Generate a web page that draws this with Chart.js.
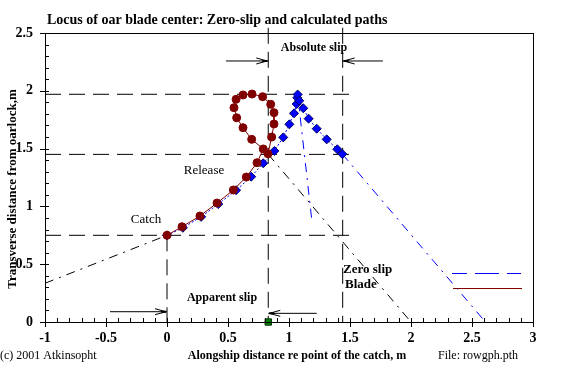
<!DOCTYPE html>
<html>
<head>
<meta charset="utf-8">
<script src="https://cdn.jsdelivr.net/npm/chart.js@4/dist/chart.umd.min.js"></script>
<style>
html, body { margin: 0; padding: 0; background: #fff; }
</style>
</head>
<body>
<canvas id="locus-chart" width="570" height="369"></canvas>
<script>
// Blade path (calculated), catch -> loop -> release
const bladeX = [0.00, 0.123, 0.270, 0.410, 0.544, 0.650, 0.738, 0.789, 0.694, 0.623, 0.571, 0.549, 0.566, 0.623, 0.697, 0.784, 0.850, 0.877, 0.877, 0.858, 0.828];
const bladeY = [0.75, 0.824, 0.917, 1.029, 1.142, 1.254, 1.378, 1.497, 1.580, 1.681, 1.767, 1.854, 1.926, 1.964, 1.972, 1.949, 1.883, 1.811, 1.713, 1.600, 1.455];

// Zero-slip path
const zeroSlipX = [0.00, 0.13, 0.28, 0.42, 0.566, 0.690, 0.789, 0.880, 0.953, 1.003, 1.041, 1.063, 1.068, 1.071, 1.084, 1.117, 1.161, 1.227, 1.309, 1.396, 1.437];
const zeroSlipY = [0.75, 0.815, 0.91, 1.02, 1.140, 1.257, 1.373, 1.480, 1.597, 1.710, 1.805, 1.886, 1.940, 1.968, 1.914, 1.849, 1.759, 1.672, 1.580, 1.494, 1.453];

// Extensions of the paths
const zeroDropX = [1.071, 1.185];
const zeroDropY = [1.968, 0.90];
const zeroTailX = [1.437, 2.61];
const zeroTailY = [1.453, 0.0];
const catchLeadX = [-1.0, 0.0];
const catchLeadY = [0.335, 0.75];
const releaseTailX = [0.83, 2.0];
const releaseTailY = [1.45, 0.0];

// Reference levels
const levelY = [1.97, 1.45, 0.75];
const levelXEnd = 1.52;
const catchX = 0.0;
const releaseX = 0.83;
const slipX = 1.44;

// Slip arrows [fromX, toX, y]
const arrows = [
    [0.484, 0.83, 2.258],
    [1.77, 1.44, 2.258],
    [-0.467, 0.0, 0.089],
    [1.227, 0.83, 0.075]
];

const xTickValues = [-1, -0.5, 0, 0.5, 1, 1.5, 2, 2.5, 3];
const yTickValues = [0, 0.5, 1, 1.5, 2, 2.5];

const SERIF = '"Liberation Serif", "Times New Roman", serif';

function pts(xs, ys) {
    return xs.map((v, i) => ({x: v, y: ys[i]}));
}

function plainLine(data, color, dash, extra) {
    return Object.assign({
        data: data,
        showLine: true,
        borderColor: color,
        borderWidth: 1,
        borderDash: dash,
        pointRadius: 0,
        pointHoverRadius: 0,
        fill: false
    }, extra || {});
}

const datasets = [];

datasets.push({
    label: 'Blade',
    data: pts(bladeX, bladeY),
    showLine: true,
    borderColor: '#800000',
    borderWidth: 1,
    backgroundColor: '#800000',
    pointStyle: 'circle',
    pointRadius: 4,
    pointBorderColor: '#800000',
    pointBorderWidth: 1
});
datasets.push({
    label: 'Zero slip',
    data: pts(zeroSlipX, zeroSlipY),
    showLine: true,
    borderColor: '#0000ff',
    borderWidth: 1,
    borderDash: [2, 2],
    backgroundColor: '#0000ff',
    pointStyle: 'rectRot',
    pointRadius: 4.5,
    pointBorderColor: '#000066',
    pointBorderWidth: 1
});
// Green marker at release on the axis
datasets.push({
    data: [{x: releaseX, y: 0}],
    pointStyle: 'rect',
    pointRadius: 4.5,
    backgroundColor: '#008000',
    pointBorderColor: '#003300',
    pointBorderWidth: 1,
    clip: false
});

datasets.push(plainLine(pts(zeroDropX, zeroDropY), '#0000ff', [9, 6, 2, 6]));
datasets.push(plainLine(pts(zeroTailX, zeroTailY), '#0000ff', [9, 6, 2, 6]));
datasets.push(plainLine(pts(catchLeadX, catchLeadY), '#000', [9, 6, 2, 6]));
datasets.push(plainLine(pts(releaseTailX, releaseTailY), '#000', [9, 6, 2, 6]));

levelY.forEach(v => {
    datasets.push(plainLine([{x: -1, y: v}, {x: levelXEnd, y: v}], '#000', [16, 8]));
});
datasets.push(plainLine([{x: catchX, y: 0.75}, {x: catchX, y: 0}], '#000', [16, 8]));
datasets.push(plainLine([{x: releaseX, y: 2.545}, {x: releaseX, y: 0}], '#000', [16, 8], {clip: false}));
datasets.push(plainLine([{x: slipX, y: 2.545}, {x: slipX, y: 0}], '#000', [16, 8], {clip: false}));

arrows.forEach(a => {
    datasets.push(plainLine([{x: a[0], y: a[2]}, {x: a[1], y: a[2]}], '#000', []));
});

function arrowHead(ctx, px, py, dir) {
    ctx.beginPath();
    ctx.moveTo(px - dir * 11, py - 3);
    ctx.lineTo(px, py);
    ctx.lineTo(px - dir * 11, py + 3);
    ctx.stroke();
    ctx.fillRect(dir > 0 ? px - 5 : px, py - 1, 5, 2);
}

const decorations = {
    id: 'decorations',
    afterDatasetsDraw(chart) {
        const {ctx, chartArea: a, scales: {x, y}} = chart;
        ctx.save();
        ctx.strokeStyle = '#000';
        ctx.fillStyle = '#000';
        ctx.lineWidth = 1;

        // frame
        ctx.strokeRect(Math.round(a.left) + 0.5, Math.round(a.top) + 0.5,
            Math.round(a.right - a.left), Math.round(a.bottom - a.top));

        // x ticks
        for (let i = 0; i <= 40; i++) {
            const px = Math.round(x.getPixelForValue(-1 + i * 0.1)) + 0.5;
            const major = i % 5 === 0;
            ctx.beginPath();
            ctx.moveTo(px, a.bottom - 4);
            ctx.lineTo(px, a.bottom + (major ? 5 : 0));
            ctx.stroke();
        }
        // y ticks
        for (let i = 0; i <= 25; i++) {
            const py = Math.round(y.getPixelForValue(i * 0.1)) + 0.5;
            const major = i % 5 === 0;
            ctx.beginPath();
            ctx.moveTo(a.left - (major ? 5 : 0), py);
            ctx.lineTo(a.left + 4, py);
            ctx.stroke();
        }

        // arrow heads
        arrows.forEach(ar => {
            const dir = ar[1] > ar[0] ? 1 : -1;
            arrowHead(ctx, x.getPixelForValue(ar[1]) - dir, y.getPixelForValue(ar[2]), dir);
        });

        // legend
        ctx.save();
        ctx.strokeStyle = 'rgb(0, 0, 255)';
        ctx.lineWidth = 1;
        ctx.setLineDash([24, 8]);
        ctx.lineDashOffset = 9;
        ctx.beginPath();
        ctx.moveTo(452, 273.5);
        ctx.lineTo(521, 273.5);
        ctx.stroke();
        ctx.restore();
        ctx.save();
        ctx.strokeStyle = '#800000';
        ctx.beginPath();
        ctx.moveTo(453, 288.5);
        ctx.lineTo(522, 288.5);
        ctx.stroke();
        ctx.restore();

        ctx.textBaseline = 'middle';
        ctx.textAlign = 'left';
        ctx.font = 'bold 13px ' + SERIF;
        ctx.fillText('Zero slip', 343, 270);
        ctx.fillText('Blade', 345, 285);

        ctx.font = 'bold 12px ' + SERIF;
        ctx.textAlign = 'center';
        ctx.fillText('Absolute slip', 314, 48);
        ctx.fillText('Apparent slip', 222, 298);

        ctx.font = '13px ' + SERIF;
        ctx.fillText('Release', 204, 171);
        ctx.fillText('Catch', 146, 220);

        // title
        ctx.textAlign = 'left';
        ctx.font = 'bold 14px ' + SERIF;
        ctx.fillText('Locus of oar blade center: Zero-slip and calculated paths', 47, 20);

        // axis titles and footnotes
        ctx.font = 'bold 12px ' + SERIF;
        ctx.textAlign = 'center';
        ctx.fillText('Alongship distance re point of the catch, m', 297, 356);
        ctx.save();
        ctx.font = 'bold 13px ' + SERIF;
        ctx.translate(13, 189);
        ctx.rotate(-Math.PI / 2);
        ctx.fillText('Transverse distance from oarlock,m', 0, 0);
        ctx.restore();

        ctx.font = '12px ' + SERIF;
        ctx.textAlign = 'left';
        ctx.fillText('(c) 2001 Atkinsopht', 0, 356);
        ctx.fillText('File: rowgph.pth', 438, 356);
        ctx.restore();
    }
};

const locusCtx = document.getElementById('locus-chart').getContext('2d');
const locusChart = new Chart(locusCtx, {
    type: 'scatter',
    data: { datasets: datasets },
    options: {
        responsive: false,
        animation: false,
        devicePixelRatio: 1,
        layout: {
            padding: { left: 0, right: 37, top: 33, bottom: 0 }
        },
        plugins: {
            legend: { display: false },
            tooltip: { enabled: false },
            title: { display: false }
        },
        scales: {
            x: {
                type: 'linear',
                min: -1,
                max: 3,
                afterBuildTicks: s => { s.ticks = xTickValues.map(v => ({value: v})); },
                afterFit: s => { s.height = 47; },
                ticks: {
                    color: '#000',
                    padding: 8,
                    maxRotation: 0,
                    autoSkip: false,
                    callback: v => String(v),
                    font: { family: SERIF, size: 14, weight: 'bold' }
                },
                grid: { display: false, drawTicks: false },
                border: { display: true, color: '#000', width: 1 }
            },
            y: {
                type: 'linear',
                min: 0,
                max: 2.5,
                afterBuildTicks: s => { s.ticks = yTickValues.map(v => ({value: v})); },
                afterFit: s => { s.width = 45; },
                ticks: {
                    color: '#000',
                    padding: 12,
                    autoSkip: false,
                    callback: v => String(v),
                    font: { family: SERIF, size: 14, weight: 'bold' }
                },
                grid: { display: false, drawTicks: false },
                border: { display: true, color: '#000', width: 1 }
            }
        }
    },
    plugins: [decorations]
});
</script>
</body>
</html>
